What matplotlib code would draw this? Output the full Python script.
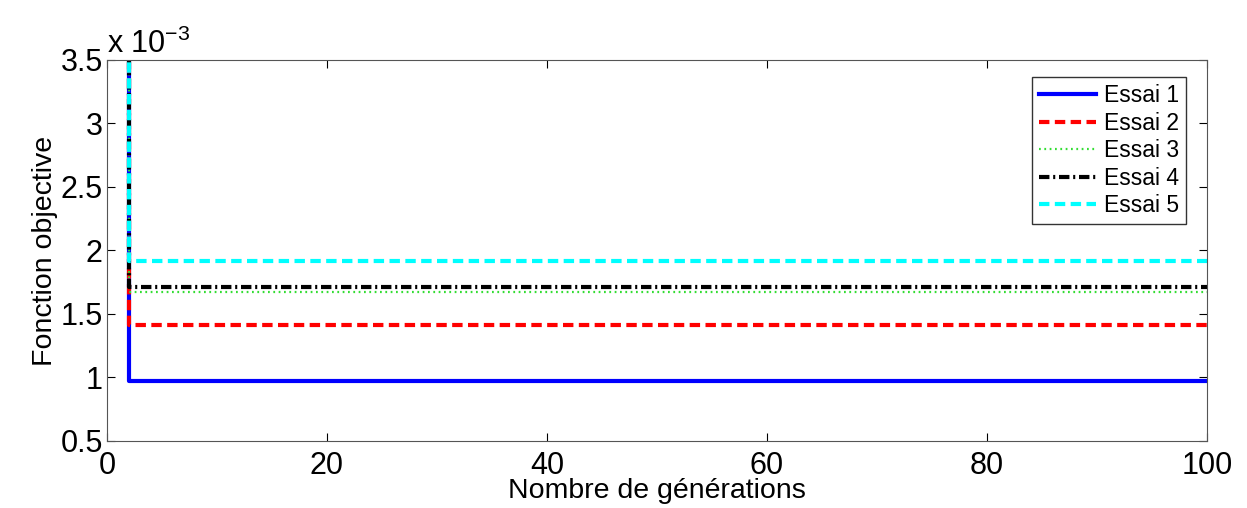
import matplotlib
matplotlib.use('Agg')
import matplotlib.pyplot as plt
import numpy as np

plt.rcParams['font.family'] = ['Liberation Sans', 'DejaVu Sans']

# data (values in units of 1e-3)
labels = ['Essai 1', 'Essai 2', 'Essai 3', 'Essai 4', 'Essai 5']
x_start = 2
x_end = 100
start_values = [4.0, 4.0, 4.0, 4.0, 4.0]
final_values = [0.975, 1.415, 1.67, 1.71, 1.915]
colors = ['#0000ff', '#ff0000', '#33dd33', '#000000', '#00ffff']
styles = ['-', (0, (2.5, 1.3)), (0, (0.8, 1.6)), (0, (2.5, 0.9, 0.5, 0.9)), (0, (2.5, 1.3))]
widths = [3.0, 3.0, 1.6, 3.0, 3.0]

fig = plt.figure(figsize=(12.47, 5.08), dpi=100)
ax = fig.add_axes([0.0858, 0.132, 0.882, 0.750])

for lab, y0, y1, c, ls, lw in zip(labels, start_values, final_values, colors, styles, widths):
    xs = [x_start, x_start, x_end]
    ys = [y0, y1, y1]
    ax.plot(xs, ys, color=c, linestyle=ls, linewidth=lw, label=lab)

ax.set_xlim(0, 100)
ax.set_ylim(0.5, 3.5)
ax.set_xticks(np.arange(0, 101, 20))
ax.set_yticks(np.arange(0.5, 3.51, 0.5))
ax.set_yticklabels(['0.5', '1', '1.5', '2', '2.5', '3', '3.5'])
ax.tick_params(direction='in', labelsize=22, length=6, top=True, right=True)
ax.tick_params(axis='x', pad=7)
ax.tick_params(axis='y', pad=3)
for sp in ax.spines.values():
    sp.set_color('#555555')

ax.set_xlabel('Nombre de générations', fontsize=20.5, labelpad=-2)
ax.set_ylabel('Fonction objective', fontsize=20.5, labelpad=2)
ax.text(0.0, 1.0, r'x 10$^{\mathregular{-3}}$', transform=ax.transAxes, fontsize=22,
        ha='left', va='bottom')

leg = ax.legend(loc='upper right', fontsize=16.5, handlelength=2.5, frameon=True,
                fancybox=False, edgecolor='black', borderpad=0.3, labelspacing=0.2,
                handletextpad=0.35, bbox_to_anchor=(0.9915, 0.985))
leg.get_frame().set_linewidth(1.0)

fig.savefig('out.png', dpi=100)
